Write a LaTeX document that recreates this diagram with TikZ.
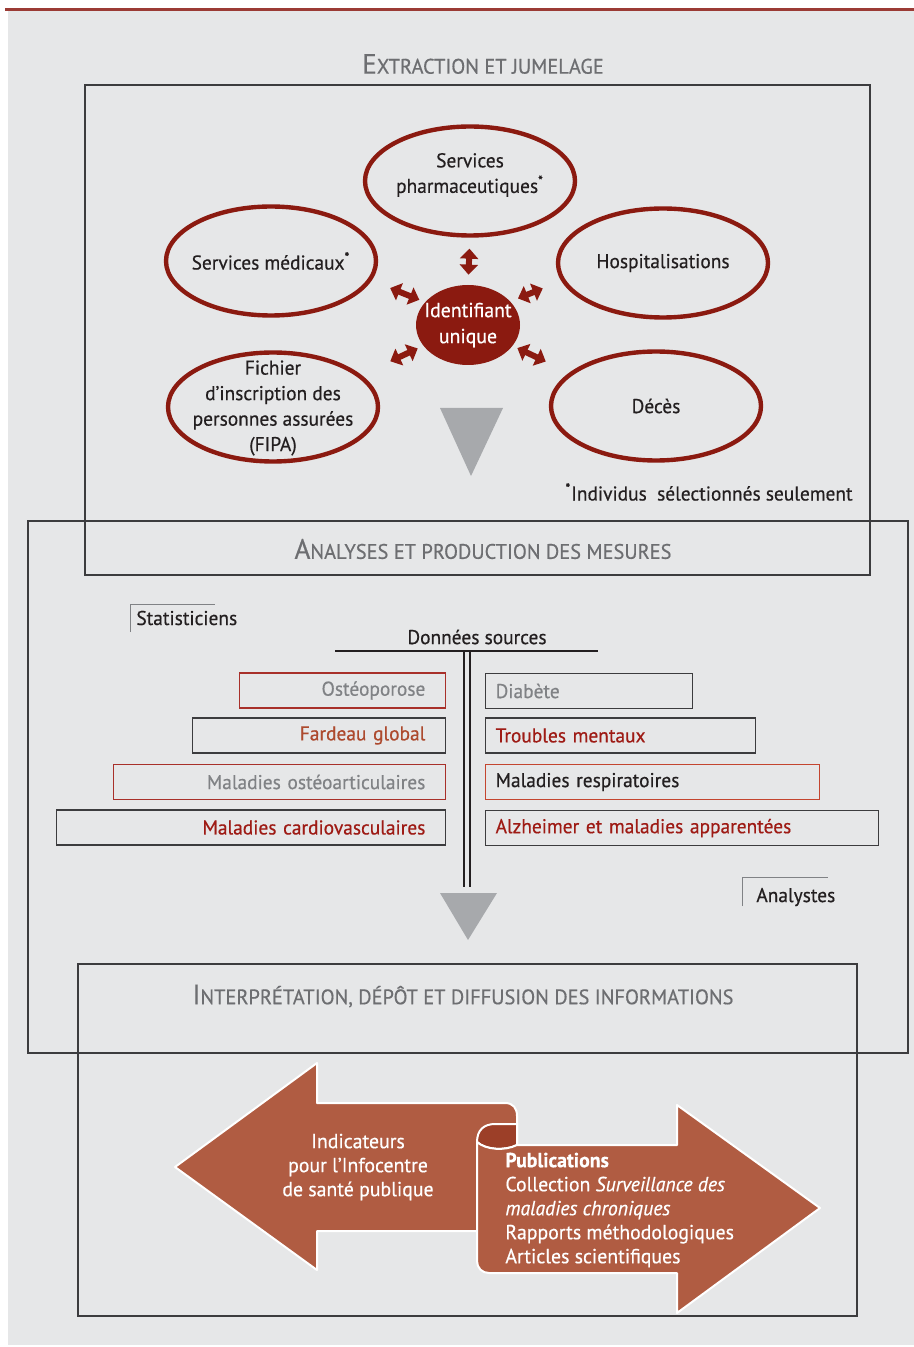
\documentclass[tikz,border=0pt]{standalone}
\usepackage{fontspec}
\setmainfont{PT Sans}[FakeStretch=0.97,FakeBold=0.5]
\usetikzlibrary{shapes.geometric,arrows.meta,positioning}

\definecolor{bggray}{HTML}{E6E7E8}
\definecolor{topred}{HTML}{9B3B35}
\definecolor{ellred}{HTML}{8B1A10}
\definecolor{boxred}{HTML}{A8302A}
\definecolor{boxorange}{HTML}{C4452F}
\definecolor{darktxt}{HTML}{231F20}
\definecolor{redtxt}{HTML}{9E1B15}
\definecolor{browntxt}{HTML}{AD4A2E}
\definecolor{graytxt}{HTML}{808285}
\definecolor{headgray}{HTML}{6D6E71}
\definecolor{framecol}{HTML}{3C3C3E}
\definecolor{trigray}{HTML}{A7A9AC}
\definecolor{arrowfill}{HTML}{B05C42}
\definecolor{curldark}{HTML}{9C3F28}

\newcommand{\hdcaps}[2]{{\fontsize{14}{16}\selectfont #1}{\fontsize{10.5}{12}\selectfont #2}}

\tikzset{
  frame/.style={draw=framecol, line width=0.65pt},
  heading/.style={text=headgray, inner sep=0pt},
  source/.style={ellipse, draw=ellred, line width=2.2pt, minimum width=105pt, minimum height=54.5pt,
    inner xsep=-20pt, inner ysep=-12pt, align=center, text=darktxt, font=\fontsize{10}{12.75}\selectfont},
  srctext/.style={align=center, inner sep=0pt, text=darktxt, font=\fontsize{10}{12.75}\selectfont},
  ident/.style={ellipse, fill=ellred, text=white, minimum width=52pt, minimum height=40pt,
    inner xsep=-8pt, inner ysep=-6pt, align=center, font=\fontsize{10.2}{13}\selectfont},
  link/.style={{Triangle[width=9pt,length=5pt]}-{Triangle[width=9pt,length=5pt]}, draw=ellred, line width=3pt},
  lbox/.style={draw=#1, line width=0.65pt, anchor=east, minimum height=17.5pt, inner xsep=10pt,
    align=right, font=\fontsize{10}{12}\selectfont},
  rbox/.style={draw=#1, line width=0.65pt, anchor=west, minimum height=17.5pt, inner xsep=5pt,
    align=left, font=\fontsize{10}{12}\selectfont},
  rule/.style={draw=darktxt, line width=0.7pt},
  bracket/.style={draw=graytxt, line width=0.5pt},
  plain/.style={text=darktxt, inner sep=0pt, font=\fontsize{10}{12}\selectfont},
  bigarrow/.style={fill=arrowfill, draw=white, line width=1pt, line join=round},
  arrowtxt/.style={text=white, inner sep=0pt, font=\fontsize{10.2}{12}\selectfont},
}

\begin{document}
\begin{tikzpicture}[x=0.5pt,y=-0.5pt]
  \useasboundingbox (0,0) rectangle (914,1347);
  \fill[bggray] (8,11) rectangle (914,1345);
  \draw[topred, line width=1.5pt] (5,10) -- (914,10);

  % the three stages
  \draw[frame] (85,85) rectangle (870,575);
  \draw[frame] (28,521) rectangle (908,1053);
  \draw[frame] (78,964) rectangle (857,1316);
  \node[heading] (hextr) at (483,64) {\hdcaps{E}{XTRACTION ET JUMELAGE}};
  \node[heading] (hanal) at (483,549) {\hdcaps{A}{NALYSES ET PRODUCTION DES MESURES}};
  \node[heading] (hinter) at (463,996) {\hdcaps{I}{NTERPRÉTATION, DÉPÔT ET DIFFUSION DES INFORMATIONS}};

  % sources around the unique identifier
  \node[source] (pharma) at (470,181) {};
  \node[srctext] (pharmatxt) at (470,175) {Services\\pharmaceutiques\textsuperscript{*}};
  \node[source] (medic) at (271,261) {Services médicaux\textsuperscript{*}};
  \node[source] (hosp) at (663,263) {Hospitalisations};
  \node[source] (fipa) at (273,407) {};
  \node[srctext] (fipatxt) at (273,408) {Fichier\\d’inscription des\\personnes assurées\\(FIPA)};
  \node[source] (deces) at (656,406) {Décès};
  \node[ident] (id) at (468,325) {Identifiant\\unique};

  \foreach \tgt/\from/\to/\sa/\sb in {pharma/90/270/5pt/5.5pt, medic/152/-11/3pt/10pt,
      hosp/29/190/4pt/10pt, fipa/205/20/3pt/16pt, deces/-25/159/2.5pt/13pt} {
    \draw[link, shorten <=\sa, shorten >=\sb] (id.\from) -- (\tgt.\to);
  }

  \fill[trigray] (440,408) -- (503,408) -- (471,476) -- cycle;
  \node[plain, anchor=east] (note) at (853,492) {\textsuperscript{*}Individus\ \ sélectionnés seulement};

  % analyses
  \draw[bracket] (130,632) |- (215,604);
  \node[plain, anchor=west] (stat) at (136,618) {Statisticiens};
  \node[plain] (donnees) at (477,637) {Données sources};
  \draw[rule] (335,651) -- (598,651);
  \draw[rule] (464,651) -- (464,887);
  \draw[rule] (470,651) -- (470,887);

  \node[lbox=boxred, text width=83pt, text=graytxt] (osteo) at (446,690.5) {Ostéoporose};
  \node[lbox=framecol, text width=106.5pt, text=browntxt] (fardeau) at (446,735.5) {Fardeau global};
  \node[lbox=boxred, text width=146pt, text=graytxt] (ostart) at (446,782) {Maladies ostéoarticulaires};
  \node[lbox=framecol, text width=174.5pt, text=redtxt] (cardio) at (446,827.5) {Maladies cardiovasculaires};
  \node[rbox=framecol, text width=93.5pt, text=graytxt] (diab) at (485,691) {Diabète};
  \node[rbox=framecol, text width=125pt, text=redtxt] (mentaux) at (485,735.5) {Troubles mentaux};
  \node[rbox=boxorange, text width=157pt, text=darktxt] (respi) at (485,782) {Maladies respiratoires};
  \node[rbox=framecol, text width=186.5pt, text=redtxt] (alz) at (485,828) {Alzheimer et maladies apparentées};

  \draw[bracket] (742,906) |- (828,877);
  \node[plain, anchor=west] (analy) at (756,897) {Analystes};
  \fill[trigray] (440,893) -- (497,893) -- (468,940) -- cycle;

  % diffusion
  \draw[bigarrow] (175,1167) -- (317,1063) -- (317,1103) -- (505,1103)
    .. controls (513,1103) and (517,1108) .. (517,1116) -- (517,1231) -- (317,1231)
    -- (317,1270) -- cycle;
  \draw[fill=curldark, draw=white, line width=1pt] (477,1142) .. controls (477,1130) and (484,1124) .. (495,1124)
    -- (517,1124) -- (517,1145) .. controls (505,1151) and (486,1150) .. (477,1142);
  \draw[bigarrow] (477,1142) .. controls (486,1150) and (505,1151) .. (517,1145) -- (677,1145)
    -- (677,1105) -- (820,1208) -- (677,1313) -- (677,1273) -- (489,1273)
    .. controls (482,1273) and (477,1268) .. (477,1261) -- cycle;
  \node[arrowtxt, align=center] (indic) at (358,1167) {Indicateurs\\pour l’Infocentre\\de santé publique};
  \node[arrowtxt, align=left, anchor=west] (pubs) at (505,1210) {\textbf{Publications}\\Collection \textit{Surveillance des}\\\textit{maladies chroniques}\\Rapports méthodologiques\\Articles scientifiques};
\end{tikzpicture}
\end{document}
